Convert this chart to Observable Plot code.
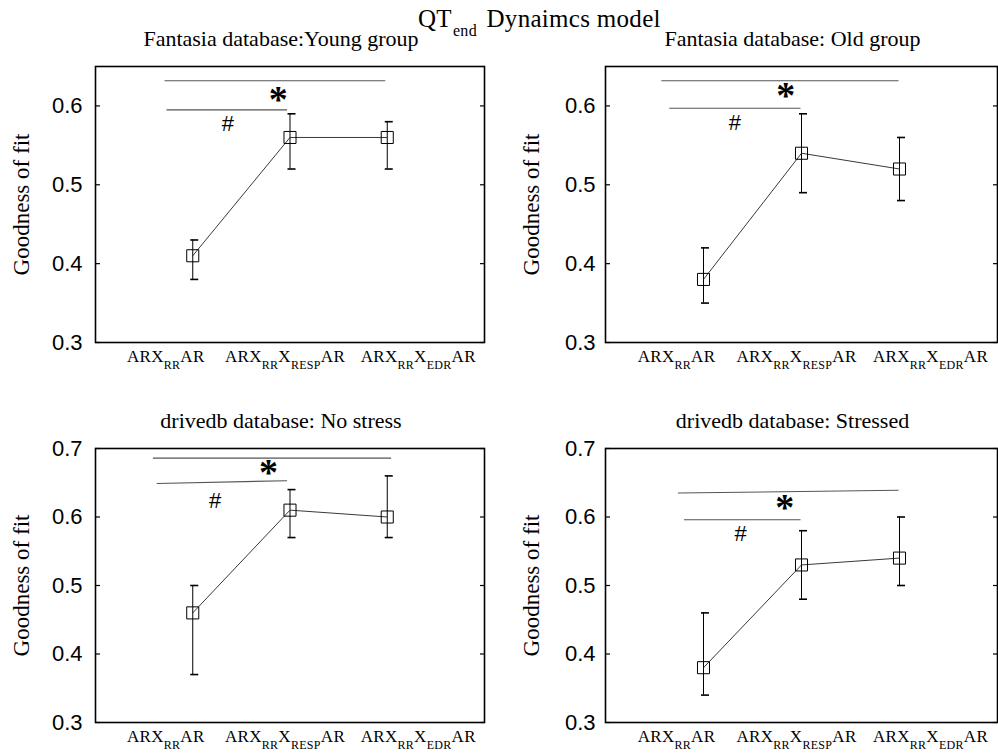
<!DOCTYPE html>
<html>
<head>
<meta charset="utf-8">
<script src="https://cdn.jsdelivr.net/npm/d3@7"></script>
<script src="https://cdn.jsdelivr.net/npm/@observablehq/plot@0.6"></script>
<style>
  html, body { margin: 0; padding: 0; background: #fff; }
  #wrap { position: relative; width: 998px; height: 754px; overflow: hidden; background: #fff; }
  .panel { position: absolute; }
  #maintitle { position: absolute; left: 418px; top: 6px; font-family: "Liberation Serif", serif; font-size: 25px; line-height: 1; white-space: nowrap; color: #000; z-index: 5; letter-spacing: 0.3px; }
  #maintitle .sub { font-size: 16px; position: relative; top: 9px; margin-left: 1px; margin-right: 3px; }
</style>
</head>
<body>
<div id="wrap">
  <div id="maintitle">QT<span class="sub">end</span> Dynaimcs model</div>
</div>
<script>
// ---------- data ----------
const models = ["ARX_{RR}AR", "ARX_{RR}X_{RESP}AR", "ARX_{RR}X_{EDR}AR"];
const panelTitles = [
  "Fantasia database:Young group",
  "Fantasia database: Old group",
  "drivedb database: No stress",
  "drivedb database: Stressed"
];
const yLabel = "Goodness of fit";

const topTicks = [0.3, 0.4, 0.5, 0.6];
const bottomTicks = [0.3, 0.4, 0.5, 0.6, 0.7];

const youngMean = [0.41, 0.56, 0.56];
const youngLow  = [0.38, 0.52, 0.52];
const youngHigh = [0.43, 0.59, 0.58];

const oldMean = [0.38, 0.54, 0.52];
const oldLow  = [0.35, 0.49, 0.48];
const oldHigh = [0.42, 0.59, 0.56];

const noStressMean = [0.46, 0.61, 0.60];
const noStressLow  = [0.37, 0.57, 0.57];
const noStressHigh = [0.50, 0.64, 0.66];

const stressedMean = [0.38, 0.53, 0.54];
const stressedLow  = [0.34, 0.48, 0.50];
const stressedHigh = [0.46, 0.58, 0.60];

// significance bars (model-index units / goodness-of-fit units)
const youngSigLines = [
  {x1: 0.71, x2: 2.98, y1: 0.632, y2: 0.632},
  {x1: 0.73, x2: 1.97, y1: 0.595, y2: 0.595}
];
const youngSigMarks = [{x: 1.88, y: 0.612, label: "*"}, {x: 1.36, y: 0.577, label: "#"}];

const oldSigLines = [
  {x1: 0.57, x2: 2.99, y1: 0.632, y2: 0.632},
  {x1: 0.65, x2: 1.99, y1: 0.597, y2: 0.597}
];
const oldSigMarks = [{x: 1.84, y: 0.617, label: "*"}, {x: 1.32, y: 0.578, label: "#"}];

const noStressSigLines = [
  {x1: 0.59, x2: 3.04, y1: 0.686, y2: 0.686},
  {x1: 0.63, x2: 1.97, y1: 0.649, y2: 0.653}
];
const noStressSigMarks = [{x: 1.78, y: 0.669, label: "*"}, {x: 1.23, y: 0.623, label: "#"}];

const stressedSigLines = [
  {x1: 0.74, x2: 2.99, y1: 0.635, y2: 0.639},
  {x1: 0.80, x2: 1.99, y1: 0.596, y2: 0.596}
];
const stressedSigMarks = [{x: 1.83, y: 0.618, label: "*"}, {x: 1.38, y: 0.575, label: "#"}];

// ---------- rendering ----------
const serif = "'Liberation Serif', 'Times New Roman', serif";
const sans = "'Liberation Sans', Arial, sans-serif";
const ns = "http://www.w3.org/2000/svg";

function addSubscripts(svg) {
  svg.querySelectorAll("text").forEach(t => {
    const src = t.textContent;
    if (!src.includes("_{")) return;
    while (t.firstChild) t.removeChild(t.firstChild);
    const parts = src.split(/(_\{[^}]*\})/).filter(s => s.length);
    let shifted = false;
    parts.forEach(p => {
      const ts = document.createElementNS(ns, "tspan");
      if (p.startsWith("_{")) {
        ts.textContent = p.slice(2, -1);
        ts.setAttribute("font-size", "12");
        if (!shifted) { ts.setAttribute("dy", "7"); shifted = true; }
      } else {
        ts.textContent = p;
        if (shifted) { ts.setAttribute("dy", "-7"); shifted = false; }
      }
      t.appendChild(ts);
    });
    t.style.letterSpacing = "0.3px";
  });
}

function panel(cfg) {
  const {left, top, width, height, mL, mR, mT, mB, yDomain, yTicks, title, mean, low, high,
         sigLines, sigMarks, tickPad} = cfg;
  const rows = models.map((m, i) => ({x: i + 1, y: mean[i], lo: low[i], hi: high[i]}));
  const innerW = width - mL - mR;
  const labelShift = [-27, -5, 31];
  const chart = Plot.plot({
    width, height,
    marginLeft: mL, marginRight: mR, marginTop: mT, marginBottom: mB,
    style: {fontFamily: serif, background: "transparent", overflow: "visible", color: "#000"},
    x: {domain: [0, 4], axis: null},
    y: {domain: yDomain},
    marks: [
      Plot.axisY({ticks: yTicks, tickSize: 0, tickPadding: tickPad, tickFormat: d => d.toFixed(1),
                  fontSize: 22, fontFamily: sans, label: null}),
      Plot.ruleY(yTicks, {y: d => d, insetRight: innerW - 5, stroke: "#000", strokeWidth: 1.2}),
      Plot.ruleY(yTicks, {y: d => d, insetLeft: innerW - 4, stroke: "#000", strokeWidth: 1.2}),
      Plot.frame({stroke: "#000", strokeWidth: 1.6}),
      Plot.text([yLabel], {frameAnchor: "left", rotate: -90, dx: -67, textAnchor: "middle",
                 lineAnchor: "bottom", fontSize: 23, fontFamily: serif}),
      Plot.text([title], {frameAnchor: "top", lineAnchor: "bottom", dy: -21, dx: -9,
                 fontSize: 22, fontFamily: serif}),
      Plot.link(sigLines, {x1: "x1", y1: "y1", x2: "x2", y2: "y2", stroke: "#555", strokeWidth: 1.1}),
      Plot.text(sigMarks.filter(d => d.label === "*"), {x: "x", y: "y", text: "label",
                 fontSize: 38, fontWeight: "bold", fontFamily: serif, dy: 3}),
      Plot.text(sigMarks.filter(d => d.label === "#"), {x: "x", y: "y", text: "label",
                 fontSize: 22, fontFamily: sans}),
      Plot.ruleX(rows, {x: "x", y1: "lo", y2: "hi", stroke: "#000", strokeWidth: 1}),
      Plot.ruleY(rows, {y: "hi", x1: "x", x2: "x", insetLeft: -2, insetRight: -6, stroke: "#000", strokeWidth: 1.6}),
      Plot.ruleY(rows, {y: "lo", x1: "x", x2: "x", insetLeft: -2, insetRight: -6, stroke: "#000", strokeWidth: 1.6}),
      Plot.line(rows, {x: "x", y: "y", stroke: "#222", strokeWidth: 0.9}),
      Plot.dot(rows, {x: "x", y: "y", symbol: "square", r: 6.8, stroke: "#000", fill: "none", strokeWidth: 1}),
      ...models.map((m, i) => Plot.text([m], {x: i + 1, frameAnchor: "bottom", lineAnchor: "bottom",
                 dy: 19, dx: labelShift[i], fontSize: 17, fontFamily: serif}))
    ]
  });
  addSubscripts(chart);
  // make sure serif texts really use the serif face
  chart.querySelectorAll("text").forEach(t => {
    const s = t.textContent;
    if (s === yLabel || panelTitles.includes(s) || s.startsWith("ARX")) {
      t.style.fontFamily = serif;
    }
  });
  chart.classList.add("panel");
  chart.style.left = left + "px";
  chart.style.top = top + "px";
  document.getElementById("wrap").appendChild(chart);
}

panel({left: 0, top: 0, width: 499, height: 380, mL: 95, mR: 15, mT: 66, mB: 38,
       yDomain: [0.3, 0.65], yTicks: topTicks, title: panelTitles[0],
       mean: youngMean, low: youngLow, high: youngHigh,
       sigLines: youngSigLines, sigMarks: youngSigMarks, tickPad: 13});
panel({left: 498, top: 0, width: 500, height: 380, mL: 107, mR: 1, mT: 66, mB: 38,
       yDomain: [0.3, 0.65], yTicks: topTicks, title: panelTitles[1],
       mean: oldMean, low: oldLow, high: oldHigh,
       sigLines: oldSigLines, sigMarks: oldSigMarks, tickPad: 10});
panel({left: 0, top: 380, width: 499, height: 374, mL: 95, mR: 15, mT: 68, mB: 32,
       yDomain: [0.3, 0.7], yTicks: bottomTicks, title: panelTitles[2],
       mean: noStressMean, low: noStressLow, high: noStressHigh,
       sigLines: noStressSigLines, sigMarks: noStressSigMarks, tickPad: 13});
panel({left: 498, top: 380, width: 500, height: 374, mL: 107, mR: 1, mT: 68, mB: 32,
       yDomain: [0.3, 0.7], yTicks: bottomTicks, title: panelTitles[3],
       mean: stressedMean, low: stressedLow, high: stressedHigh,
       sigLines: stressedSigLines, sigMarks: stressedSigMarks, tickPad: 10});
</script>
</body>
</html>
